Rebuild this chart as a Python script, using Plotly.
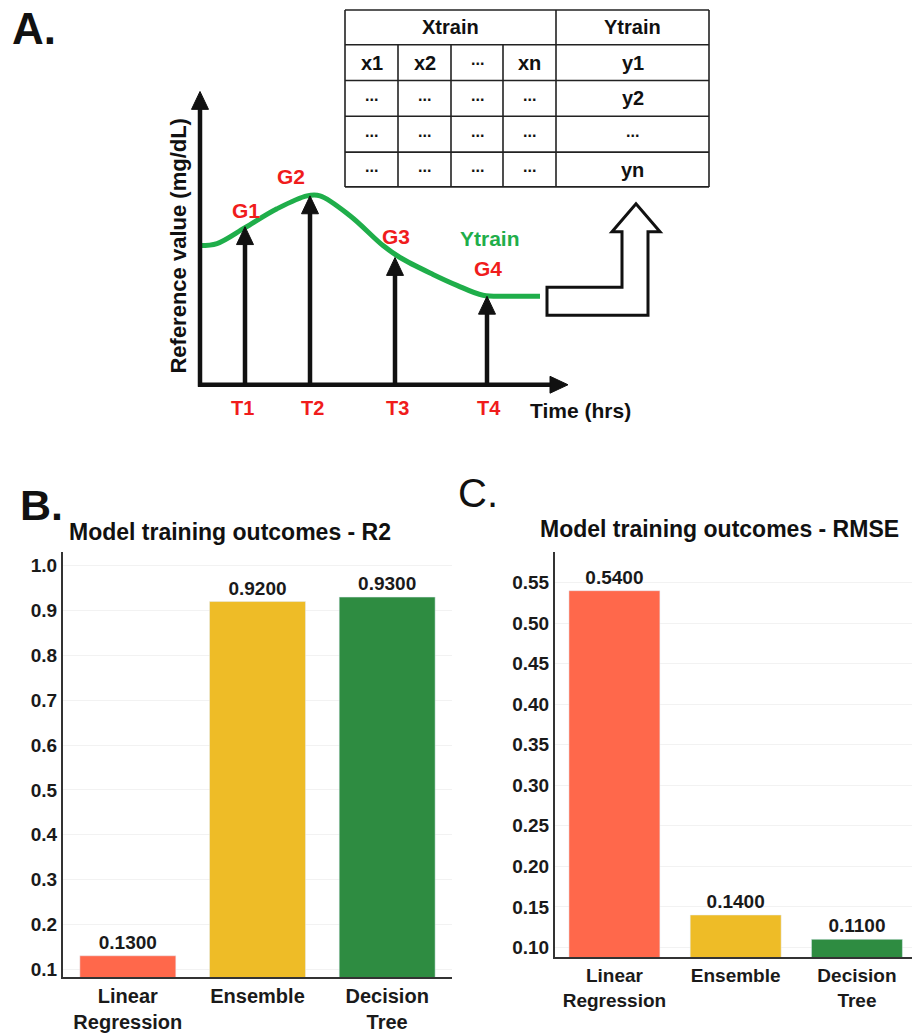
import plotly.graph_objects as go

W, H = 912, 1033
FONT = "Liberation Sans, Arial, sans-serif"

# ---------------- Panel A (schematic) data ----------------
curve_x = [200, 217, 245, 277, 307, 320, 350, 383, 400, 433, 457, 483, 510, 540]
curve_y = [247, 245, 229, 210, 197, 197, 217, 247, 259, 276, 287, 297, 298, 298]
sample_t = [245, 310, 395, 487]
sample_g = [228, 197, 259, 298]
sample_t_labels = ["T1", "T2", "T3", "T4"]
sample_g_labels = ["G1", "G2", "G3", "G4"]
table_header = ["Xtrain", "Ytrain"]
table_rows = [
    ["x1", "x2", "...", "xn", "y1"],
    ["...", "...", "...", "...", "y2"],
    ["...", "...", "...", "...", "..."],
    ["...", "...", "...", "...", "yn"],
]

# ---------------- Panels B / C data ----------------
models = ["Linear<br>Regression", "Ensemble", "Decision<br>Tree"]
r2_values = [0.13, 0.92, 0.93]
rmse_values = [0.54, 0.14, 0.11]
r2_ticks = [0.1, 0.2, 0.3, 0.4, 0.5, 0.6, 0.7, 0.8, 0.9, 1.0]
rmse_ticks = [0.10, 0.15, 0.20, 0.25, 0.30, 0.35, 0.40, 0.45, 0.50, 0.55]
bar_colors = ["#FF684B", "#EEBC27", "#2E8C41"]

# ---------------- styling / layout constants ----------------
RED = "#F01C1C"
GREEN = "#1FAE4A"
INK = "#111111"
AX_X0, AX_Y0 = 200, 387          # schematic axes origin
AX_YTOP, AX_XEND = 92, 568       # arrow tips of schematic axes
HEAD = 18                         # arrowhead length
HALF = 8.5                        # arrowhead half width
col_edges = [345, 398, 451, 503, 556, 709]
row_edges = [10, 45, 81, 117, 153, 188]

fig = go.Figure()

# Bar panels
fig.add_trace(go.Bar(
    x=models, y=r2_values, marker_color=bar_colors, width=0.74,
    texttemplate="%{y:.4f}", textposition="outside",
    textfont=dict(family=FONT, size=19, color="#1a1a1a", weight="bold"),
    xaxis="x", yaxis="y", hoverinfo="skip"))
fig.add_trace(go.Bar(
    x=models, y=rmse_values, marker_color=bar_colors, width=0.75,
    texttemplate="%{y:.4f}", textposition="outside",
    textfont=dict(family=FONT, size=19, color="#1a1a1a", weight="bold"),
    xaxis="x2", yaxis="y2", hoverinfo="skip"))

# Schematic curve
fig.add_trace(go.Scatter(
    x=curve_x, y=curve_y, mode="lines",
    line=dict(color=GREEN, width=5, shape="spline", smoothing=1.0),
    xaxis="x3", yaxis="y3", hoverinfo="skip"))

shapes = []
annos = []


def line(x0, y0, x1, y1, w=4.5, c=INK):
    shapes.append(dict(type="line", xref="x3", yref="y3", x0=x0, y0=y0, x1=x1, y1=y1,
                       line=dict(color=c, width=w), layer="above"))


def tri_up(x, tip):
    shapes.append(dict(type="path", xref="x3", yref="y3",
                       path=f"M {x-HALF},{tip+HEAD} L {x},{tip} L {x+HALF},{tip+HEAD} Z",
                       fillcolor=INK, line=dict(color=INK, width=1), layer="above"))


def tri_right(tip, y):
    shapes.append(dict(type="path", xref="x3", yref="y3",
                       path=f"M {tip-HEAD},{y-HALF} L {tip},{y} L {tip-HEAD},{y+HALF} Z",
                       fillcolor=INK, line=dict(color=INK, width=1), layer="above"))


def text(x, y, s, size, color=INK, weight="bold", xanchor="center", angle=0):
    annos.append(dict(x=x, y=y, xref="x3", yref="y3", text=s, showarrow=False,
                      xanchor=xanchor, yanchor="middle", textangle=angle,
                      font=dict(family=FONT, size=size, color=color, weight=weight)))


# schematic axes
line(AX_X0, AX_Y0 + 2, AX_X0, AX_YTOP + HEAD - 2)
tri_up(AX_X0, AX_YTOP)
line(AX_X0 - 2, AX_Y0, AX_XEND - HEAD + 2, AX_Y0)
tri_right(AX_XEND, AX_Y0)

# sampling arrows
g_off = [(1, -16), (-19, -19), (1, -21), (1, -28)]
for t, g, tl, gl, (dx, dy) in zip(sample_t, sample_g, sample_t_labels, sample_g_labels, g_off):
    line(t, AX_Y0, t, g + HEAD - 2)
    tri_up(t, g)
    text(t + dx, g + dy, gl, 21, RED)
    text(t - 3 if t < 300 else t + 2, 410, tl, 20, RED)

text(490, 240, "Ytrain", 21, GREEN)
text(580, 413, "Time (hrs)", 21)
text(179, 247, "Reference value (mg/dL)", 22, angle=-90)

# table
for i, ry in enumerate(row_edges):
    line(col_edges[0], ry, col_edges[-1], ry, w=1.6, c="#222")
for cx in (col_edges[0], col_edges[4], col_edges[5]):
    line(cx, row_edges[0], cx, row_edges[-1], w=1.6, c="#222")
for cx in col_edges[1:4]:
    line(cx, row_edges[1], cx, row_edges[-1], w=1.6, c="#222")
text((col_edges[0] + col_edges[4]) / 2, (row_edges[0] + row_edges[1]) / 2, table_header[0], 20)
text((col_edges[4] + col_edges[5]) / 2, (row_edges[0] + row_edges[1]) / 2, table_header[1], 20)
for r, row in enumerate(table_rows):
    cy = (row_edges[r + 1] + row_edges[r + 2]) / 2
    for c, s in enumerate(row):
        cx = (col_edges[c] + col_edges[c + 1]) / 2
        text(cx, cy - (3 if s == "..." else 0), s, 16 if s == "..." else 20)

# hollow bent arrow
shapes.append(dict(type="path", xref="x3", yref="y3",
                   path="M 547,289 L 622,289 L 622,233 L 612,233 L 636,205 L 660,233 "
                        "L 648,233 L 648,317 L 547,317 Z",
                   fillcolor="white", line=dict(color=INK, width=3), layer="above"))

# panel letters and titles
text(10, 29, "A.", 44, xanchor="left")
text(18, 508, "B.", 43, xanchor="left")
text(456, 496, "C.", 40, weight="normal", xanchor="left")
text(67, 535, "Model training outcomes - R2", 23, xanchor="left")
text(538, 532, "Model training outcomes - RMSE", 23, xanchor="left")

axis_common = dict(showline=True, linecolor="#333333", linewidth=2, ticks="",
                   zeroline=False, fixedrange=True)
tickfont = dict(family=FONT, size=19, color="#1a1a1a", weight="bold")
xtickfont = dict(family=FONT, size=20, color="#1a1a1a", weight="bold")

fig.update_layout(
    width=W, height=H, margin=dict(l=0, r=0, t=0, b=0),
    paper_bgcolor="white", plot_bgcolor="rgba(0,0,0,0)", showlegend=False,
    bargap=0.26,
    xaxis=dict(domain=[63 / W, 452 / W], range=[-0.5, 2.5], anchor="y",
               showgrid=False, tickfont=xtickfont, **axis_common),
    yaxis=dict(domain=[1 - 983 / H, 1 - 555 / H], range=[0.082, 1.031], anchor="x",
               tickvals=r2_ticks, tickformat=".1f", showgrid=True, gridcolor="#F2F2F2",
               tickfont=tickfont, **axis_common),
    xaxis2=dict(domain=[555 / W, 1.0], range=[-0.49, 2.454], anchor="y2",
                showgrid=False, tickfont=dict(xtickfont, size=19), **axis_common),
    yaxis2=dict(domain=[1 - 963 / H, 1 - 555 / H], range=[0.0877, 0.588], anchor="x2",
                tickvals=rmse_ticks, tickformat=".2f", showgrid=True, gridcolor="#F2F2F2",
                tickfont=tickfont, **axis_common),
    xaxis3=dict(domain=[0, 1], range=[0, W], visible=False, fixedrange=True, anchor="y3"),
    yaxis3=dict(domain=[0, 1], range=[H, 0], visible=False, fixedrange=True, anchor="x3"),
    shapes=shapes, annotations=annos,
)

fig.write_html("out.html", config={"displayModeBar": False},
               post_script="document.body.style.margin='0';document.body.style.padding='0';")
